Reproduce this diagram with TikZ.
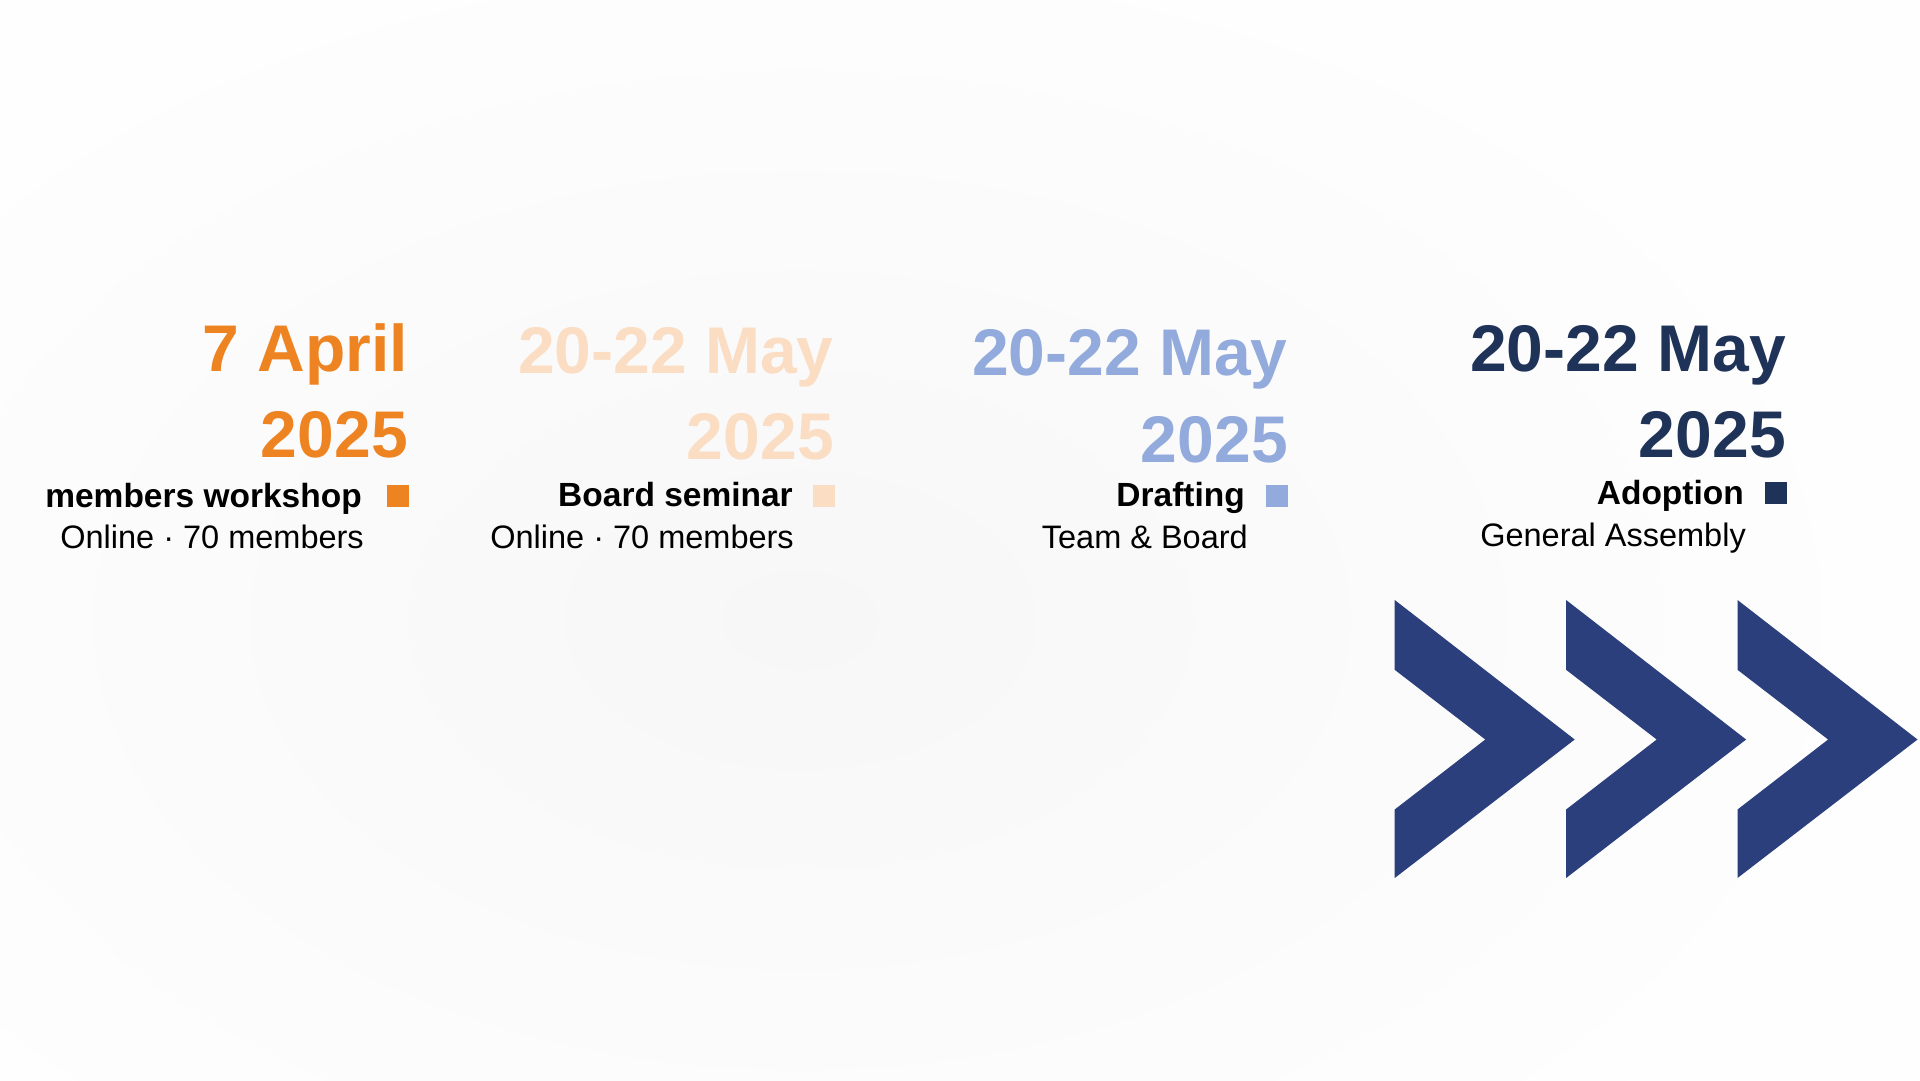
\documentclass[tikz,border=0pt]{standalone}
\usepackage{fontspec}
\setmainfont{Liberation Sans}
\definecolor{bgin}{RGB}{247,247,247}
\definecolor{bgout}{RGB}{254,254,254}
\definecolor{orangec}{RGB}{238,131,34}
\definecolor{peachc}{RGB}{250,221,195}
\definecolor{bluec}{RGB}{146,171,220}
\definecolor{navyc}{RGB}{31,51,88}
\definecolor{chevc}{RGB}{43,63,125}
\tikzset{
  datetxt/.style={anchor=base east, inner sep=0pt, font=\fontsize{66}{66}\selectfont\bfseries},
  labeltxt/.style={anchor=base east, inner sep=0pt, font=\fontsize{33.5}{33.5}\selectfont\bfseries, text=black},
  subtxt/.style={anchor=base east, inner sep=0pt, font=\fontsize{32.5}{32.5}\selectfont, text=black},
  marker/.style={anchor=north east, inner sep=0pt, minimum size=22pt},
  chevron/.style={fill=chevc, draw=none}
}
\begin{document}
\begin{tikzpicture}[x=1pt,y=-1pt]
\useasboundingbox (0,0) rectangle (1920,1080);
\fill[bgout] (0,0) rectangle (1920,1080);
\shade[inner color=bgin, outer color=bgout, draw=none] (800,620) ellipse (1100 and 700);

% column 1
\node[datetxt, text=orangec] (d1a) at (408,371) {7 April};
\node[datetxt, text=orangec] (d1b) at (408,457) {2025};
\node[marker, fill=orangec] (m1) at (409,485) {};
\node[labeltxt] (l1) at (362,507) {members workshop};
\node[subtxt] (s1) at (364,548) {Online · 70 members};

% column 2
\node[datetxt, text=peachc] (d2a) at (834,373) {20-22 May};
\node[datetxt, text=peachc] (d2b) at (834,459) {2025};
\node[marker, fill=peachc] (m2) at (835,485) {};
\node[labeltxt] (l2) at (793,506) {Board seminar};
\node[subtxt] (s2) at (794,548) {Online · 70 members};

% column 3
\node[datetxt, text=bluec] (d3a) at (1288,375) {20-22 May};
\node[datetxt, text=bluec] (d3b) at (1288,462) {2025};
\node[marker, fill=bluec] (m3) at (1288,485) {};
\node[labeltxt] (l3) at (1245,506) {Drafting};
\node[subtxt] (s3) at (1248,548) {Team \& Board};

% column 4
\node[datetxt, text=navyc] (d4a) at (1786,371) {20-22 May};
\node[datetxt, text=navyc] (d4b) at (1786,457) {2025};
\node[marker, fill=navyc] (m4) at (1787,482) {};
\node[labeltxt] (l4) at (1744,504) {Adoption};
\node[subtxt] (s4) at (1746,546) {General Assembly};

% chevrons
\foreach \dx in {0,171.4,342.8}{
  \fill[chevron] (1394.7+\dx,600) -- (1574.7+\dx,739.5) -- (1394.7+\dx,878)
     -- (1394.7+\dx,809.5) -- (1485.3+\dx,739.5) -- (1394.7+\dx,669.8) -- cycle;
}
\end{tikzpicture}
\end{document}
